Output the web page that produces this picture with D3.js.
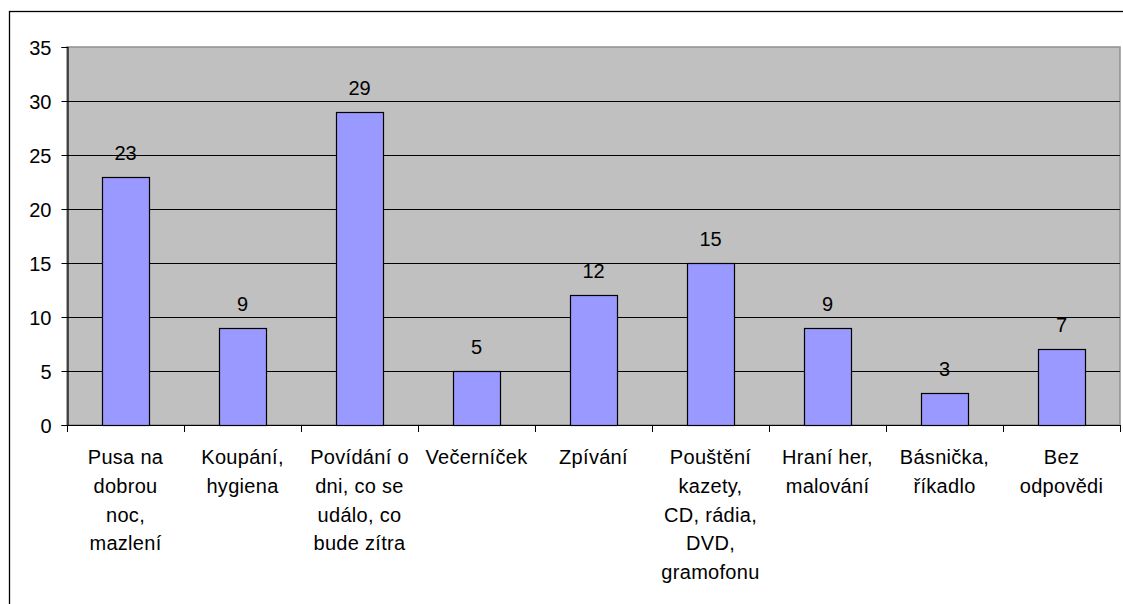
<!DOCTYPE html>
<html lang="cs">
<head>
<meta charset="utf-8">
<title>Večerní rituály</title>
<style>
  html, body { margin: 0; padding: 0; background: #fff; }
  svg { display: block; }
  text { font-family: "Liberation Sans", Arial, sans-serif; fill: #000; }
</style>
</head>
<body>
<svg id="chart"></svg>
<script src="https://cdn.jsdelivr.net/npm/d3@7"></script>
<script>
  const width = 1123;
  const height = 604;

  // data
  const categories = [
    "Pusa na dobrou noc, mazlení",
    "Koupání, hygiena",
    "Povídání o dni, co se událo, co bude zítra",
    "Večerníček",
    "Zpívání",
    "Pouštění kazety, CD, rádia, DVD, gramofonu",
    "Hraní her, malování",
    "Básnička, říkadlo",
    "Bez odpovědi"
  ];
  // wrapped the way the chart shows them
  const categoryLines = [
    ["Pusa na", "dobrou", "noc,", "mazlení"],
    ["Koupání,", "hygiena"],
    ["Povídání o", "dni, co se", "událo, co", "bude zítra"],
    ["Večerníček"],
    ["Zpívání"],
    ["Pouštění", "kazety,", "CD, rádia,", "DVD,", "gramofonu"],
    ["Hraní her,", "malování"],
    ["Básnička,", "říkadlo"],
    ["Bez", "odpovědi"]
  ];
  const values = [23, 9, 29, 5, 12, 15, 9, 3, 7];
  const yTicks = [0, 5, 10, 15, 20, 25, 30, 35];

  const plot = { left: 67, right: 1120, top: 47, bottom: 425 };

  const svg = d3.select("#chart")
    .attr("width", width)
    .attr("height", height)
    .attr("viewBox", [0, 0, width, height]);

  // outer chart frame (runs off the right and bottom edge)
  svg.append("rect")
    .attr("x", 9.5)
    .attr("y", 11.5)
    .attr("width", 1130)
    .attr("height", 620)
    .attr("fill", "#fff")
    .attr("stroke", "#000")
    .attr("stroke-width", 1.3);

  const x = d3.scaleBand()
    .domain(categories)
    .range([plot.left, plot.right])
    .paddingInner(0.6)
    .paddingOuter(0.3);

  const edges = d3.scaleLinear()
    .domain([0, categories.length])
    .range([plot.left, plot.right]);

  const y = d3.scaleLinear()
    .domain([0, 35])
    .range([plot.bottom, plot.top]);

  // plot area
  svg.append("rect")
    .attr("x", plot.left)
    .attr("y", plot.top)
    .attr("width", plot.right - plot.left)
    .attr("height", plot.bottom - plot.top)
    .attr("fill", "#c0c0c0")
    .attr("stroke", "#909090")
    .attr("stroke-width", 1.5);

  // gridlines
  svg.append("g")
    .selectAll("line")
    .data(yTicks.filter(d => d > 0 && d < 35))
    .join("line")
      .attr("x1", plot.left)
      .attr("x2", plot.right)
      .attr("y1", d => Math.round(y(d)) + 0.5)
      .attr("y2", d => Math.round(y(d)) + 0.5)
      .attr("stroke", "#000")
      .attr("stroke-width", 1);

  // bars
  svg.append("g")
    .selectAll("rect")
    .data(values)
    .join("rect")
      .attr("x", (d, i) => Math.round(x(categories[i])) + 0.5)
      .attr("y", d => Math.round(y(d)) + 0.5)
      .attr("width", Math.round(x.bandwidth()))
      .attr("height", d => Math.round(y(0)) - Math.round(y(d)))
      .attr("fill", "#9999ff")
      .attr("stroke", "#000")
      .attr("stroke-width", 1.2);

  // value labels
  svg.append("g")
    .selectAll("text")
    .data(values)
    .join("text")
      .attr("x", (d, i) => x(categories[i]) + x.bandwidth() / 2)
      .attr("y", d => y(d) - 17)
      .attr("text-anchor", "middle")
      .attr("font-size", 20)
      .text(d => d);

  // y axis
  const yAxis = d3.axisLeft(y)
    .tickValues(yTicks)
    .tickSize(6)
    .tickPadding(10);

  svg.append("g")
    .attr("transform", `translate(${plot.left + 0.5},0)`)
    .call(yAxis)
    .call(g => g.select(".domain").attr("stroke", "#000").attr("stroke-width", 1.2))
    .call(g => g.selectAll(".tick line").attr("stroke", "#000"))
    .call(g => g.selectAll(".tick text")
      .attr("font-size", 20)
      .attr("font-family", "Liberation Sans, Arial, sans-serif")
      .attr("dy", "0.35em")
      .attr("fill", "#000"));

  // x axis line + ticks at category edges
  const xg = svg.append("g");
  xg.append("line")
    .attr("x1", plot.left)
    .attr("x2", plot.right)
    .attr("y1", plot.bottom + 0.5)
    .attr("y2", plot.bottom + 0.5)
    .attr("stroke", "#000")
    .attr("stroke-width", 1.2);
  xg.selectAll("line.tick")
    .data(d3.range(categories.length + 1))
    .join("line")
      .attr("class", "tick")
      .attr("x1", i => Math.round(edges(i)) + 0.5)
      .attr("x2", i => Math.round(edges(i)) + 0.5)
      .attr("y1", plot.bottom)
      .attr("y2", plot.bottom + 7)
      .attr("stroke", "#000");

  // category labels
  xg.selectAll("text.cat")
    .data(categoryLines)
    .join("text")
      .attr("class", "cat")
      .attr("text-anchor", "middle")
      .attr("font-size", 20)
      .attr("letter-spacing", 0.3)
      .each(function(lines, i) {
        const cx = x(categories[i]) + x.bandwidth() / 2;
        d3.select(this).selectAll("tspan")
          .data(lines)
          .join("tspan")
            .attr("x", cx)
            .attr("y", (l, j) => 464 + j * 28.8)
            .text(l => l);
      });
</script>
</body>
</html>
